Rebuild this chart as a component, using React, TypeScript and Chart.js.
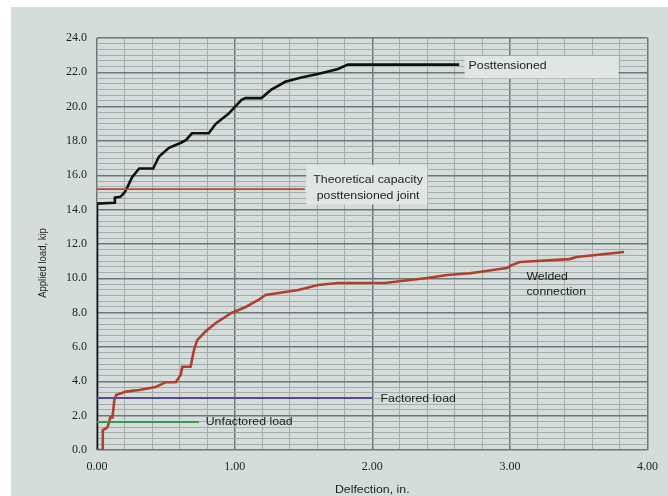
import React, { useEffect, useRef } from "react";
import { Chart, registerables } from "chart.js";

Chart.register(...registerables);

// ---- Data ----
const postX = [0, 0, 0.126, 0.13, 0.17, 0.2, 0.22, 0.256, 0.307, 0.408, 0.451, 0.523, 0.61, 0.646, 0.69, 0.812, 0.863, 0.957, 1.05, 1.08, 1.195, 1.267, 1.368, 1.484, 1.606, 1.751, 1.823, 2.632];
const postY = [0, 14.35, 14.4, 14.7, 14.75, 15.0, 15.3, 15.9, 16.4, 16.4, 17.1, 17.6, 17.9, 18.05, 18.45, 18.45, 19.0, 19.6, 20.4, 20.5, 20.5, 21.0, 21.45, 21.7, 21.9, 22.2, 22.45, 22.45];

const weldX = [0, 0.042, 0.042, 0.066, 0.08, 0.097, 0.112, 0.126, 0.139, 0.21, 0.307, 0.427, 0.5, 0.572, 0.608, 0.62, 0.68, 0.704, 0.728, 0.788, 0.863, 0.978, 1.08, 1.173, 1.224, 1.368, 1.462, 1.606, 1.751, 2.09, 2.4, 2.545, 2.711, 2.978, 3.014, 3.072, 3.433, 3.484, 3.83];
const weldY = [0, 0, 1.16, 1.25, 1.4, 1.9, 1.9, 2.9, 3.2, 3.4, 3.5, 3.67, 3.95, 3.95, 4.37, 4.85, 4.85, 5.8, 6.4, 6.9, 7.4, 7.98, 8.33, 8.74, 9.03, 9.2, 9.32, 9.61, 9.73, 9.73, 10.02, 10.19, 10.3, 10.6, 10.77, 10.95, 11.12, 11.24, 11.53];

const theoreticalX = [0, 1.51];
const theoreticalY = [15.2, 15.2];
const factoredX = [0, 2.0];
const factoredY = [3.03, 3.03];
const unfactoredX = [0, 0.74];
const unfactoredY = [1.63, 1.63];

const X_MIN = 0, X_MAX = 4, X_MINOR_PER_MAJOR = 5; // 0.2 step, labels every 1.00
const Y_MIN = 0, Y_MAX = 24, Y_MINOR_PER_MAJOR = 6; // 1/3 step, labels every 2.0
const Y_MAJOR = 2;

const xAxisTitle = "Delfection, in.";
const yAxisTitle = "Applied load, kip";

// annotation labels
const labelPost = { lines: ["Posttensioned"], x: 2.70, y: 22.36, align: "left", box: [2.67, 3.79, 22.95, 21.65] };
const labelTheo = { lines: ["Theoretical capacity", "posttensioned joint"], x: 1.97, y: 15.72, align: "center", box: [1.52, 2.40, 16.6, 14.3] };
const labelWeld = { lines: ["Welded", "connection"], x: 3.12, y: 10.08, align: "left", box: null };
const labelFact = { lines: ["Factored load"], x: 2.06, y: 2.97, align: "left", box: null };
const labelUnf = { lines: ["Unfactored load"], x: 0.79, y: 1.63, align: "left", box: null };

const BG = "#d4dddc";
const BOX_BG = "#dfe6e5";
const MINOR_GRID = "#a4adac";
const MAJOR_GRID = "#6e7777";
const TEXT = "#1e1e1e";
const STRETCH = 1.12;

const zip = (xs: number[], ys: number[]) => xs.map((x, i) => ({ x, y: ys[i] }));

export default function App() {
  const ref = useRef<HTMLCanvasElement | null>(null);

  useEffect(() => {
    if (!ref.current) return;

    const bgPlugin = {
      id: "bg",
      beforeDraw(chart: any) {
        const { ctx, width, height } = chart;
        ctx.save();
        ctx.fillStyle = "#ffffff";
        ctx.fillRect(0, 0, width, height);
        ctx.fillStyle = BG;
        ctx.fillRect(11, 7, width - 11, height - 7);
        ctx.restore();
      },
    };

    const labels = [labelPost, labelTheo, labelWeld, labelFact, labelUnf];

    const drawStretched = (ctx: CanvasRenderingContext2D, t: string, px: number, py: number, align: string) => {
      ctx.save();
      ctx.translate(px, py);
      ctx.scale(STRETCH, 1);
      ctx.textAlign = align as CanvasTextAlign;
      ctx.fillText(t, 0, 0);
      ctx.restore();
    };

    const boxPlugin = {
      id: "boxes",
      beforeDatasetsDraw(chart: any) {
        const { ctx } = chart;
        const xs = chart.scales.x, ys = chart.scales.y;
        ctx.save();
        ctx.fillStyle = BOX_BG;
        labels.forEach((l) => {
          if (!l.box) return;
          const [x0, x1, y0, y1] = l.box;
          const px0 = xs.getPixelForValue(x0), px1 = xs.getPixelForValue(x1);
          const py0 = ys.getPixelForValue(y0), py1 = ys.getPixelForValue(y1);
          ctx.fillRect(px0, py0, px1 - px0, py1 - py0);
        });
        ctx.restore();
      },
      afterDatasetsDraw(chart: any) {
        const { ctx } = chart;
        const xs = chart.scales.x, ys = chart.scales.y;
        ctx.save();
        ctx.fillStyle = TEXT;
        ctx.font = "11px 'Liberation Sans', Arial, sans-serif";
        ctx.textBaseline = "middle";
        labels.forEach((l) => {
          const px = xs.getPixelForValue(l.x);
          const py = ys.getPixelForValue(l.y);
          l.lines.forEach((t, i) => drawStretched(ctx, t, px, py + i * 15.5, l.align));
        });
        // axis titles
        drawStretched(ctx, xAxisTitle, (chart.chartArea.left + chart.chartArea.right) / 2, 490, "center");
        ctx.font = "9.5px 'Liberation Sans', Arial, sans-serif";
        ctx.translate(43, 263);
        ctx.rotate(-Math.PI / 2);
        ctx.scale(1, STRETCH);
        ctx.textAlign = "center";
        ctx.fillText(yAxisTitle, 0, 0);
        ctx.restore();
      },
    };

    const lineDs = (label: string, data: any[], color: string, width: number) => ({
      label,
      data,
      borderColor: color,
      backgroundColor: color,
      borderWidth: width,
      showLine: true,
      pointRadius: 0,
      pointHoverRadius: 0,
      fill: false,
      tension: 0,
    });

    const tickFont = { family: "'Liberation Serif', 'Times New Roman', serif", size: 12 };

    const chart = new Chart(ref.current, {
      type: "scatter",
      data: {
        datasets: [
          lineDs("Theoretical capacity posttensioned joint", zip(theoreticalX, theoreticalY), "#c2432f", 1.8),
          lineDs("Factored load", zip(factoredX, factoredY), "#5a4890", 2),
          lineDs("Unfactored load", zip(unfactoredX, unfactoredY), "#3a9a4c", 2),
          lineDs("Welded connection", zip(weldX, weldY), "#b0402e", 2.6),
          lineDs("Posttensioned", zip(postX, postY), "#111111", 2.6),
        ],
      },
      options: {
        animation: false,
        responsive: false,
        events: [],
        layout: { padding: { left: 0, top: 38, right: 16, bottom: 0 } },
        plugins: { legend: { display: false }, tooltip: { enabled: false }, title: { display: false } },
        scales: {
          x: {
            type: "linear",
            min: X_MIN,
            max: X_MAX,
            afterBuildTicks: (s: any) => {
              const n = (X_MAX - X_MIN) * X_MINOR_PER_MAJOR;
              s.ticks = Array.from({ length: n + 1 }, (_, i) => ({ value: X_MIN + i / X_MINOR_PER_MAJOR }));
            },
            afterFit: (s: any) => { s.height = 46; },
            ticks: {
              autoSkip: false,
              maxRotation: 0,
              padding: 10,
              color: TEXT,
              font: tickFont,
              callback: (v: any, i: number) => (i % X_MINOR_PER_MAJOR === 0 ? Number(v).toFixed(2) : ""),
            },
            grid: {
              drawTicks: false,
              color: (c: any) => (c.index % X_MINOR_PER_MAJOR === 0 ? MAJOR_GRID : MINOR_GRID),
              lineWidth: (c: any) => (c.index % X_MINOR_PER_MAJOR === 0 ? 1.5 : 1),
            },
            border: { display: false },
          },
          y: {
            type: "linear",
            min: Y_MIN,
            max: Y_MAX,
            afterBuildTicks: (s: any) => {
              const n = ((Y_MAX - Y_MIN) / Y_MAJOR) * Y_MINOR_PER_MAJOR;
              s.ticks = Array.from({ length: n + 1 }, (_, i) => ({ value: Y_MIN + (i * Y_MAJOR) / Y_MINOR_PER_MAJOR }));
            },
            afterFit: (s: any) => { s.width = 97; },
            ticks: {
              autoSkip: false,
              padding: 10,
              color: TEXT,
              font: tickFont,
              callback: (v: any, i: number) => (i % Y_MINOR_PER_MAJOR === 0 ? Number(v).toFixed(1) : ""),
            },
            grid: {
              drawTicks: false,
              color: (c: any) => (c.index % Y_MINOR_PER_MAJOR === 0 ? MAJOR_GRID : MINOR_GRID),
              lineWidth: (c: any) => (c.index % Y_MINOR_PER_MAJOR === 0 ? 1.5 : 1),
            },
            border: { display: false },
          },
        },
      },
      plugins: [bgPlugin, boxPlugin],
    });

    return () => chart.destroy();
  }, []);

  return (
    <div style={{ position: "fixed", left: 0, top: 0, width: 668, height: 496 }}>
      <canvas ref={ref} width={668} height={496} style={{ width: 668, height: 496 }} />
    </div>
  );
}
